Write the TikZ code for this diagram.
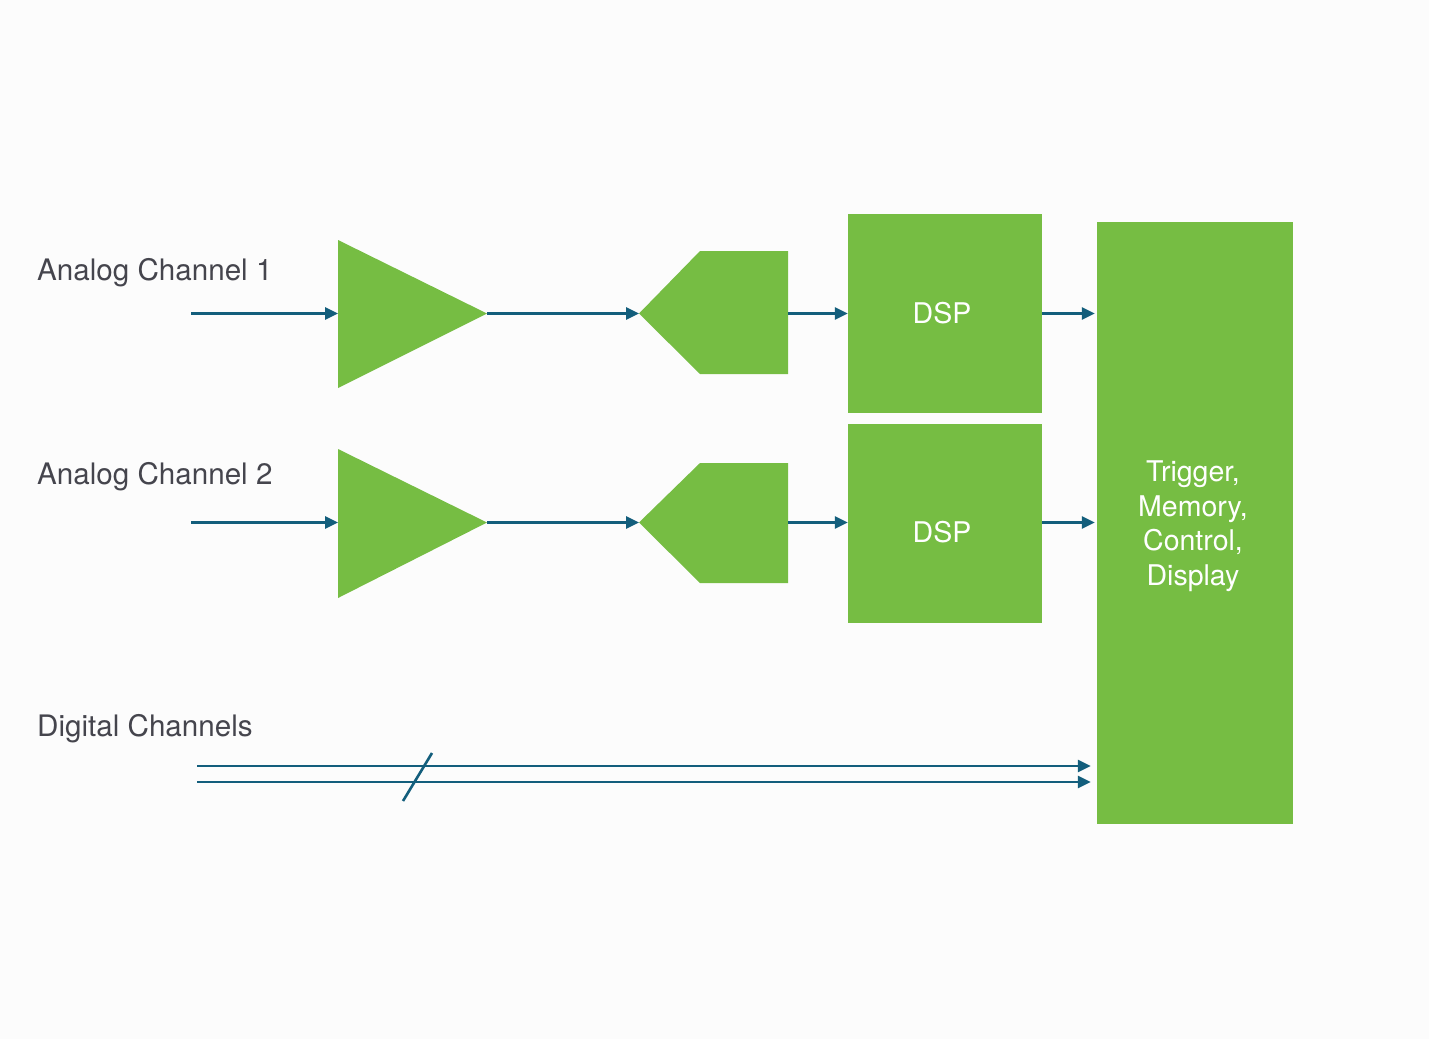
\documentclass[tikz,border=0pt]{standalone}
\usepackage{fontspec}
\setmainfont{TeX Gyre Heros}
\usetikzlibrary{arrows.meta}
\definecolor{grn}{HTML}{76BD43}
\definecolor{wireblue}{HTML}{135E7C}
\definecolor{txt}{HTML}{45454D}
\begin{document}
\begin{tikzpicture}[x=1pt,y=-1pt,
  conn/.style={draw=wireblue,line width=2.6pt,-{Triangle[length=13pt,width=12pt]}},
  block/.style={fill=grn,draw=none,inner sep=0pt},
  btext/.style={inner sep=0pt,text=white,font=\fontsize{28.5}{34.5}\selectfont,align=center},
  lbl/.style={text=txt,font=\fontsize{29.6}{34}\selectfont,anchor=base west,inner sep=0pt}]
\useasboundingbox (0,0) rectangle (1429,1039);
\fill[white!99!black] (0,0) rectangle (1429,1039);

% labels
\node[lbl] (l1) at (37,280) {Analog Channel 1};
\node[lbl] (l2) at (37,484) {Analog Channel 2};
\node[lbl] (l3) at (37,736) {Digital Channels};

% amplifiers
\fill[grn] (338,240) -- (487,313.5) -- (338,388) -- cycle;
\coordinate (a1in) at (338,313.5);
\coordinate (a1out) at (487,313.5);
\fill[grn] (338,449) -- (487,522.5) -- (338,598) -- cycle;
\coordinate (a2in) at (338,522.5);
\coordinate (a2out) at (487,522.5);

% ADCs
\fill[grn] (639,313.5) -- (700,251) -- (788,251) -- (788,374) -- (700,374) -- cycle;
\coordinate (c1in) at (639,313.5);
\coordinate (c1out) at (788,313.5);
\fill[grn] (639,522.5) -- (700,463) -- (788,463) -- (788,583) -- (700,583) -- cycle;
\coordinate (c2in) at (639,522.5);
\coordinate (c2out) at (788,522.5);

% DSP blocks
\node[block,minimum width=194pt,minimum height=199pt] (dsp1) at (945,313.5) {};
\node[btext] (dsp1t) at (942,313) {DSP};
\node[block,minimum width=194pt,minimum height=199pt] (dsp2) at (945,523) {};
\node[btext] (dsp2t) at (942,532) {DSP};

% Trigger block
\node[block,minimum width=196pt,minimum height=602pt] (tmc) at (1195,523) {};
\node[btext] (tmct) at (1193,526) {Trigger,\\Memory,\\Control,\\Display};

% inputs
\coordinate (in1) at (191,313.5);
\coordinate (in2) at (191,522.5);
\coordinate (d1) at (197,766);
\coordinate (d2) at (197,782);

% connectors
\draw[conn] (in1) -- (a1in);
\draw[conn] (a1out) -- (c1in);
\draw[conn] (c1out) -- (dsp1.west |- c1out);
\draw[conn,shorten >=2pt] (dsp1.east |- c1out) -- (tmc.west |- c1out);
\draw[conn] (in2) -- (a2in);
\draw[conn] (a2out) -- (c2in);
\draw[conn] (c2out) -- (dsp2.west |- c2out);
\draw[conn,shorten >=2pt] (dsp2.east |- c2out) -- (tmc.west |- c2out);

\draw[conn,shorten >=6pt] (d1) -- (tmc.west |- d1);
\draw[conn,shorten >=6pt] (d2) -- (tmc.west |- d2);
\coordinate (s1) at (403,801);
\coordinate (s2) at (432,753);
\draw[draw=wireblue,line width=2.6pt] (s1) -- (s2);
\end{tikzpicture}
\end{document}
